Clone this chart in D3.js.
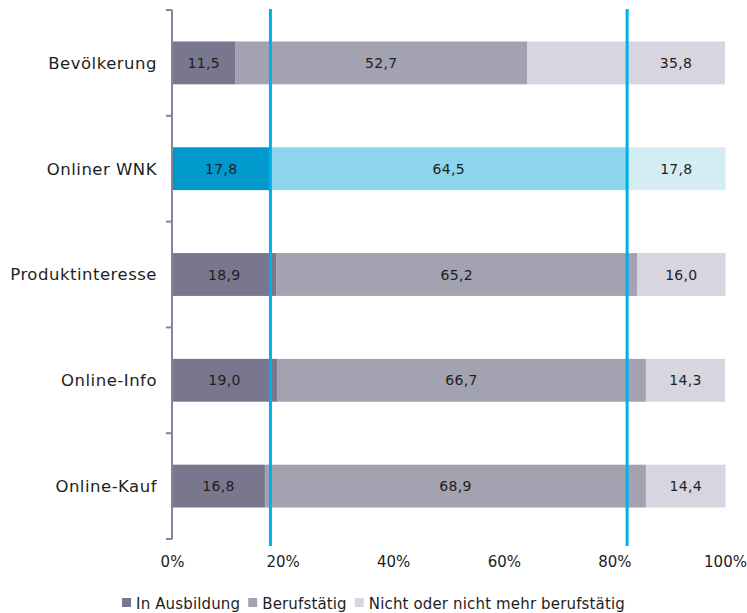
<!DOCTYPE html>
<html>
<head>
<meta charset="utf-8">
<script src="https://cdn.jsdelivr.net/npm/d3@7/dist/d3.min.js"></script>
<style>
  html, body { margin: 0; padding: 0; background: #fff; }
  svg { display: block; font-family: "DejaVu Sans", sans-serif; }
</style>
</head>
<body>
<svg id="chart" width="747" height="613"></svg>
<script>
// Gruppen (y-Achse), von oben nach unten
const categories = ["Bevölkerung", "Onliner WNK", "Produktinteresse", "Online-Info", "Online-Kauf"];
// Reihen
const seriesNames = ["In Ausbildung", "Berufstätig", "Nicht oder nicht mehr berufstätig"];
// Anteile in Prozent je Gruppe
const inAusbildung = [11.5, 17.8, 18.9, 19.0, 16.8];
const berufstaetig = [52.7, 64.5, 65.2, 66.7, 68.9];
const nichtBerufstaetig = [35.8, 17.8, 16.0, 14.3, 14.4];
// Achsenbeschriftung
const tickValues = [0, 20, 40, 60, 80, 100];
// Referenzgruppe, deren Grenzen als Linien markiert werden
const referenceCategory = "Onliner WNK";

const seriesValues = [inAusbildung, berufstaetig, nichtBerufstaetig];
const greyPalette = ["#78778d", "#a3a2b0", "#d7d6e0"];
const bluePalette = ["#0099cb", "#8dd5ec", "#d4edf5"];
const lineColor = "#00b0e8";
const axisColor = "#85849a";
const textColor = "#1e1e1e";

const svg = d3.select("#chart");
const plotLeft = 172, plotRight = 725, plotTop = 10, plotBottom = 539;

const x = d3.scaleLinear().domain([0, 100]).range([plotLeft, plotRight]);
const y = d3.scaleBand().domain(categories).range([plotTop, plotBottom])
  .paddingInner(0.595).paddingOuter(0.2975);

// gestapelte Segmente je Gruppe
const rows = categories.map((cat, i) => {
  let acc = 0;
  const segs = seriesValues.map((vals, s) => {
    const x0 = acc; acc += vals[i];
    return { cat, s, value: vals[i], x0, x1: acc };
  });
  return { cat, segs };
});

const refRow = rows.find(r => r.cat === referenceCategory);
const refLo = refRow.segs[0].x1;
const refHi = refRow.segs[1].x1;

const g = svg.append("g");
rows.forEach(row => {
  const pal = row.cat === referenceCategory ? bluePalette : greyPalette;
  g.selectAll(null).data(row.segs).enter().append("rect")
    .attr("x", d => x(d.x0))
    .attr("y", y(row.cat))
    .attr("width", d => x(d.x1) - x(d.x0))
    .attr("height", y.bandwidth())
    .attr("fill", d => pal[d.s]);
});

// Werte in den Segmenten; das letzte Segment wird rechts der Referenzlinie beschriftet
const fmt = v => d3.format(".1f")(v).replace(".", ",");
rows.forEach(row => {
  g.selectAll(null).data(row.segs).enter().append("text")
    .attr("x", d => {
      const a = d.s === seriesNames.length - 1 ? Math.max(d.x0, refHi) : d.x0;
      return x((a + d.x1) / 2);
    })
    .attr("y", y(row.cat) + y.bandwidth() / 2)
    .attr("dy", "0.36em")
    .attr("text-anchor", "middle")
    .attr("font-size", 14)
    .attr("letter-spacing", "0.3px")
    .attr("fill", textColor)
    .text(d => fmt(d.value));
});

// y-Achse mit Teilstrichen an den Gruppengrenzen
const bounds = categories.map(c => y(c) - y.step() * y.paddingInner() / 2);
bounds[0] = plotTop;
bounds.push(plotBottom);
svg.append("line")
  .attr("x1", plotLeft).attr("x2", plotLeft)
  .attr("y1", plotTop).attr("y2", plotBottom)
  .attr("stroke", axisColor).attr("stroke-width", 2);
svg.selectAll(null).data(bounds).enter().append("line")
  .attr("x1", plotLeft - 6).attr("x2", plotLeft)
  .attr("y1", d => d).attr("y2", d => d)
  .attr("stroke", axisColor).attr("stroke-width", 2);

svg.selectAll(null).data(categories).enter().append("text")
  .attr("x", 157)
  .attr("y", d => y(d) + y.bandwidth() / 2)
  .attr("dy", "0.36em")
  .attr("text-anchor", "end")
  .attr("font-size", 16.5)
  .attr("letter-spacing", "0.5px")
  .attr("fill", textColor)
  .text(d => d);

// Referenzlinien
svg.selectAll(null).data([refLo, refHi]).enter().append("line")
  .attr("x1", d => x(d)).attr("x2", d => x(d))
  .attr("y1", 9).attr("y2", 546)
  .attr("stroke", lineColor).attr("stroke-width", 3);

// x-Achsenbeschriftung
const xAxis = svg.append("g")
  .attr("transform", `translate(0,${plotBottom + 9})`)
  .call(d3.axisBottom(x).tickValues(tickValues).tickFormat(d => d + "%").tickSize(0).tickPadding(0));
xAxis.select(".domain").remove();
xAxis.selectAll("text")
  .attr("font-family", "DejaVu Sans, sans-serif")
  .attr("font-size", 15)
  .attr("fill", textColor)
  .attr("dy", "1.27em");

// Legende, horizontal zentriert
const legend = svg.append("g");
let lx = 0;
seriesNames.forEach((name, i) => {
  const item = legend.append("g").attr("transform", `translate(${lx},0)`);
  item.append("rect").attr("x", 0).attr("y", -11).attr("width", 9).attr("height", 9)
    .attr("fill", greyPalette[i]);
  const t = item.append("text").attr("x", 14).attr("y", 0)
    .attr("font-size", 15).attr("letter-spacing", "0.15px")
    .attr("fill", textColor).text(name);
  lx += 14 + t.node().getComputedTextLength() + 8;
});
const legendWidth = lx - 8;
legend.attr("transform", `translate(${(747 - legendWidth) / 2},609)`);
</script>
</body>
</html>
